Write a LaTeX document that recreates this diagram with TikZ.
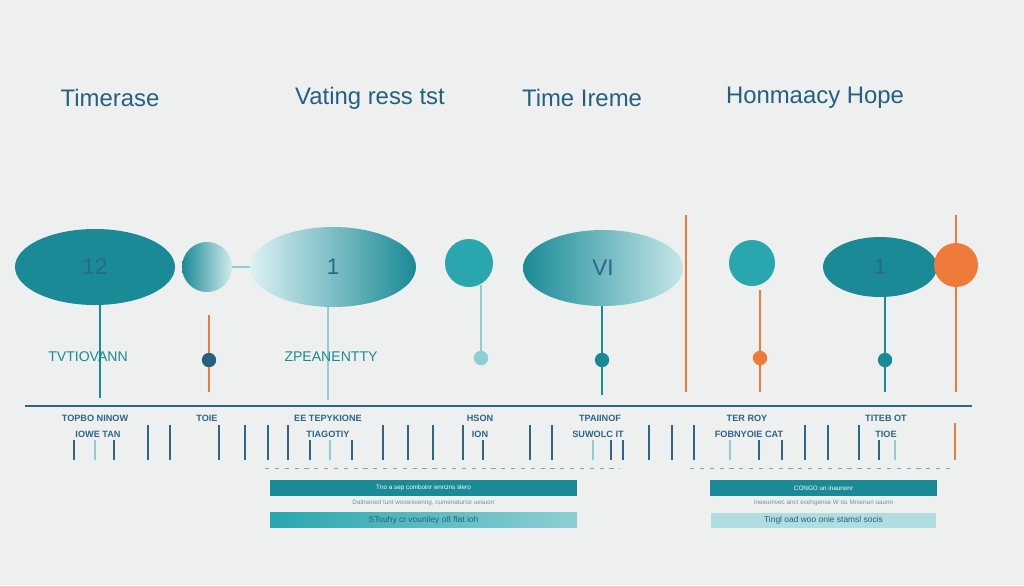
\documentclass[tikz,border=0pt]{standalone}
\usepackage{fontspec}
\setmainfont{Liberation Sans}
\usetikzlibrary{shapes.geometric, calc}

\definecolor{tealdark}{HTML}{1A8A96}
\definecolor{tealmid}{HTML}{2AA6AE}
\definecolor{teallight}{HTML}{8CCFD3}
\definecolor{navy}{HTML}{2D6688}
\definecolor{ink}{HTML}{25607E}
\definecolor{orng}{HTML}{EE7B3A}
\definecolor{bg}{HTML}{EEEFEF}

\begin{document}
\begin{tikzpicture}[x=0.25mm, y=-0.25mm]

    \tikzstyle{title} = [text=ink, font=\fontsize{17}{18}\selectfont];
    \tikzstyle{bigblob} = [draw=none, ellipse, inner sep=0, fill=tealdark, text=navy, font=\fontsize{16}{17}\selectfont];
    \tikzstyle{fadeblob} = [draw=none, ellipse, inner sep=0, left color=teallight!30, right color=tealdark, text=navy, font=\fontsize{16}{17}\selectfont];
    \tikzstyle{dotnode} = [circle, fill=tealdark, inner sep=0, minimum size=3.6mm];
    \tikzstyle{stem} = [tealdark, line width=0.9pt];
    \tikzstyle{ostem} = [orng, line width=0.9pt];
    \tikzstyle{tick} = [navy, line width=1.3pt];
    \tikzstyle{lab} = [text=navy, font=\bfseries\fontsize{6.5}{7}\selectfont, inner sep=0];
    \tikzstyle{bigtag} = [text=tealdark, font=\fontsize{10}{11}\selectfont, inner sep=0];
    \tikzstyle{bartext} = [font=\fontsize{4.5}{5}\selectfont, inner sep=0];

    \fill[bg] (0,0) rectangle (1024,585);
    \useasboundingbox (0,0) rectangle (1024,585);

    % titles
    \node[title] (t1) at (110,98) {Timerase};
    \node[title] (t2) at (370,98) {Vating ress tst};
    \node[title] (t3) at (582,98) {Time Ireme};
    \node[title] (t4) at (815,98) {Honmaacy Hope};

    % blobs
    \node[bigblob, minimum width=40mm, minimum height=19mm] (b1) at (95,267) {12};
    \node[circle, inner sep=0, minimum size=12.5mm, left color=tealdark, right color=teallight!40] (c1) at (207,267) {};
    \node[fadeblob, minimum width=41.5mm, minimum height=20mm] (b2) at (333,267) {1};
    \node[circle, inner sep=0, minimum size=12mm, fill=tealmid] (c2) at (469,263) {};
    \node[fadeblob, minimum width=40mm, minimum height=19mm, right color=teallight!50, left color=tealdark] (b3) at (603,268) {VI};
    \node[circle, inner sep=0, minimum size=11.5mm, fill=tealmid] (c3) at (752,263) {};
    \node[bigblob, minimum width=28.5mm, minimum height=15mm] (b4) at (880,267) {1};
    \node[circle, inner sep=0, minimum size=11mm, fill=orng] (c4) at (956,265) {};
    \draw[teallight, line width=0.8pt] (c1.east) -- (b2.west);

    % stems and dots
    \node[dotnode, fill=ink] (d1) at (209,360) {};
    \node[dotnode, fill=teallight] (d2) at (481,358) {};
    \node[dotnode] (d3) at (602,360) {};
    \node[dotnode, fill=orng] (d4) at (760,358) {};
    \node[dotnode] (d5) at (885,360) {};
    \draw[stem] (100,305) -- (100,398);
    \draw[ostem] (209,315) -- (d1) -- (209,392);
    \draw[stem, teallight] (328,307) -- (328,400);
    \draw[stem, teallight] (481,285) -- (d2);
    \draw[stem] (602,306) -- (d3) -- (602,395);
    \draw[ostem] (760,290) -- (d4) -- (760,392);
    \draw[stem] (885,297) -- (d5) -- (885,392);
    \draw[ostem] (686,215) -- (686,392);
    \draw[ostem] (c4) -- (956,215);
    \draw[ostem] (c4.south) -- (956,392);

    \node[bigtag] (g1) at (88,357) {TVTIOVANN};
    \node[bigtag] (g2) at (331,357) {ZPEANENTTY};

    % axis
    \draw[navy, line width=1.3pt] (25,406) -- (972,406);

    % labels under axis
    \node[lab] (l1) at (95,418) {TOPBO NINOW};
    \node[lab] (l1b) at (98,434) {IOWE TAN};
    \node[lab] (l2) at (207,418) {TOIE};
    \node[lab] (l3) at (328,418) {EE TEPYKIONE};
    \node[lab] (l3b) at (328,434) {TIAGOTIY};
    \node[lab] (l4) at (480,418) {HSON};
    \node[lab] (l4b) at (480,434) {ION};
    \node[lab] (l5) at (600,418) {TPAIINOF};
    \node[lab] (l5b) at (598,434) {SUWOLC IT};
    \node[lab] (l6) at (747,418) {TER ROY};
    \node[lab] (l6b) at (749,434) {FOBNYOIE CAT};
    \node[lab] (l7) at (886,418) {TITEB OT};
    \node[lab] (l7b) at (886,434) {TIOE};

    % ticks
    \foreach \x in {148,170,219,245,268,288,383,408,433,463,530,552,649,672,694,805,828,859}
        \draw[tick] (\x,425) -- (\x,460);
    \foreach \x in {74,114,310,352,483,611,623,759,782,879}
        \draw[tick, line width=1pt] (\x,440) -- (\x,460);
    \foreach \x in {95,330,593,730,895}
        \draw[tick, teallight, line width=0.8pt] (\x,440) -- (\x,460);
    \draw[ostem] (955,423) -- (955,460);

    % dashed guides
    \draw[navy!60, dash pattern=on 3pt off 4pt] (265,468) -- (620,468);
    \draw[navy!60, dash pattern=on 3pt off 4pt] (690,468) -- (955,468);

    % bars
    \node[fill=tealdark, minimum width=76.75mm, minimum height=4mm, bartext, text=white] (r1) at (423.5,488) {Tno a sep comboinr wnrcins slero};
    \node[bartext, text=navy!70] (r1s) at (423.5,503) {Daitnaned tunt woowsvenng, cumenaturce uesuon};
    \node[left color=tealmid, right color=teallight, minimum width=76.75mm, minimum height=3.75mm, bartext, font=\fontsize{6}{7}\selectfont, text=ink] (r2) at (423.5,520) {STouhy cr vouniley o8 flat ioh};
    \node[fill=tealdark, minimum width=56.75mm, minimum height=4mm, bartext, text=white] (r3) at (823.5,488) {CONGO un inaunonr};
    \node[bartext, text=navy!70] (r3s) at (823.5,503) {Ineeumvec anct ecehgense W ou Mnienan uaunn};
    \node[fill=teallight!70, minimum width=56.25mm, minimum height=3.75mm, bartext, font=\fontsize{6}{7}\selectfont, text=ink] (r4) at (823.5,520) {Tingl oad woo onie stamsl socis};

\end{tikzpicture}
\end{document}
